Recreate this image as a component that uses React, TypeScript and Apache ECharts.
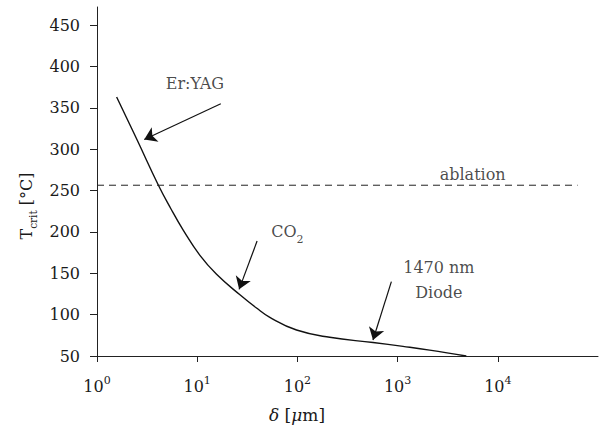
import React, { useEffect, useRef } from "react";
import * as echarts from "echarts";

// Curve: critical temperature vs optical penetration depth
const depthUm = [1.57, 2.53, 4.1, 5.41, 7.25, 10.6, 15.6, 26.7, 39.1, 53.1, 98, 210, 569, 1132, 2089, 4850];
const tCrit = [363.2, 310.5, 256.5, 229, 202.2, 172, 148.8, 124, 108, 96.7, 81.4, 72.6, 66.3, 61.6, 57.1, 50];

// Ablation threshold (dashed line)
const ablationT = 256.5;
const ablationRange = [1, 62500];

// Axis ticks
const yTicks = [50, 100, 150, 200, 250, 300, 350, 400, 450];
const yMin = 50;
const yMax = 472;
const xMin = 1;
const xMax = 100000;

// Annotation labels (data coordinates)
const annoText = ["Er:YAG", "{m|CO}{sub|2}", "ablation", "1470 nm\nDiode"];
const annoX = [9.49, 79.3, 5610, 2582];
const annoY = [379, 200, 270, 142];

// Annotation arrows (data coordinates): from -> to (tip)
const arrowFromX = [17.2, 39.6, 867];
const arrowFromY = [355, 189, 140];
const arrowToX = [2.96, 26.2, 568];
const arrowToY = [311.7, 130.6, 69.3];

const FONT = "'DejaVu Serif', serif";
const INK = "#1a1a1a";

export default function App() {
  const ref = useRef<HTMLDivElement>(null);

  useEffect(() => {
    if (!ref.current) return;
    const chart = echarts.init(ref.current, null, { renderer: "svg" });

    const curve = depthUm.map((d, i) => [d, tCrit[i]]);
    const arrowData = arrowFromX.map((x, i) => [
      { coord: [x, arrowFromY[i]] },
      { coord: [arrowToX[i], arrowToY[i]] },
    ]);
    const annoData = annoText.map((t, i) => ({ value: [annoX[i], annoY[i]], text: t }));

    chart.setOption({
      animation: false,
      backgroundColor: "#ffffff",
      textStyle: { fontFamily: FONT, color: INK },
      grid: { left: 97, right: 5, top: 7, bottom: 71, containLabel: false },
      xAxis: {
        type: "log",
        logBase: 10,
        min: xMin,
        max: xMax,
        axisLine: { show: true, lineStyle: { color: "#222", width: 1 } },
        axisTick: { show: true, length: 6, lineStyle: { color: "#222", width: 1 } },
        minorTick: { show: false },
        splitLine: { show: false },
        axisLabel: {
          margin: 19,
          showMaxLabel: false,
          formatter: (v: number) => {
            const e = Math.round(Math.log10(v));
            if (e >= 5) return "";
            return `{b|10}{s|${e}}`;
          },
          rich: {
            b: { fontSize: 16, lineHeight: 22, fontFamily: FONT, color: INK },
            s: { fontSize: 11, lineHeight: 11, verticalAlign: "top", fontFamily: FONT, color: INK },
          },
        },
      },
      yAxis: {
        type: "value",
        min: yMin,
        max: yMax,
        axisLine: { show: true, lineStyle: { color: "#222", width: 1 } },
        axisTick: { show: true, length: 7, customValues: yTicks, lineStyle: { color: "#222", width: 1 } },
        splitLine: { show: false },
        axisLabel: {
          customValues: yTicks,
          margin: 17,
          fontSize: 16,
          fontFamily: FONT,
          color: INK,
        },
      },
      series: [
        {
          type: "line",
          data: curve,
          showSymbol: false,
          smooth: 0.45,
          lineStyle: { color: "#111", width: 1.4 },
          silent: true,
          markLine: {
            silent: true,
            symbol: ["none", "arrow"],
            symbolSize: 12,
            label: { show: false },
            lineStyle: { color: "#111", width: 1.2, type: "solid" },
            emphasis: { disabled: true },
            data: arrowData,
          },
        },
        {
          type: "line",
          data: ablationRange.map((x) => [x, ablationT]),
          showSymbol: false,
          silent: true,
          lineStyle: { color: "#222", width: 1, type: [7, 5] },
        },
        {
          type: "scatter",
          data: annoData,
          symbolSize: 0,
          silent: true,
          label: {
            show: true,
            position: "inside",
            fontSize: 16,
            lineHeight: 25,
            fontFamily: FONT,
            color: INK,
            formatter: (p: any) => p.data.text,
            rich: {
              m: { fontSize: 16, lineHeight: 26, fontFamily: FONT, color: INK },
              sub: { fontSize: 11, lineHeight: 11, verticalAlign: "bottom", fontFamily: FONT, color: INK },
            },
          },
        },
      ],
      graphic: [
        {
          type: "text",
          x: 297,
          y: 415,
          silent: true,
          style: {
            text: "{i|δ} [{i|μ}m]",
            align: "center",
            verticalAlign: "middle",
            fontSize: 17,
            fontFamily: FONT,
            fill: INK,
            rich: {
              i: { fontStyle: "italic", fontSize: 17, fontFamily: FONT, color: INK },
            },
          },
        },
        {
          type: "text",
          x: 26,
          y: 206,
          rotation: Math.PI / 2,
          silent: true,
          style: {
            text: "{m|T}{sub|crit}{m| [°C]}",
            align: "center",
            verticalAlign: "middle",
            fontSize: 16,
            fontFamily: FONT,
            fill: INK,
            rich: {
              m: { fontSize: 16, lineHeight: 24, fontFamily: FONT, color: INK },
              sub: { fontSize: 10.5, lineHeight: 10.5, verticalAlign: "bottom", fontFamily: FONT, color: INK },
            },
          },
        },
      ],
    });

    return () => chart.dispose();
  }, []);

  return (
    <div
      ref={ref}
      style={{ position: "absolute", left: 0, top: 0, width: 603, height: 427 }}
    />
  );
}
